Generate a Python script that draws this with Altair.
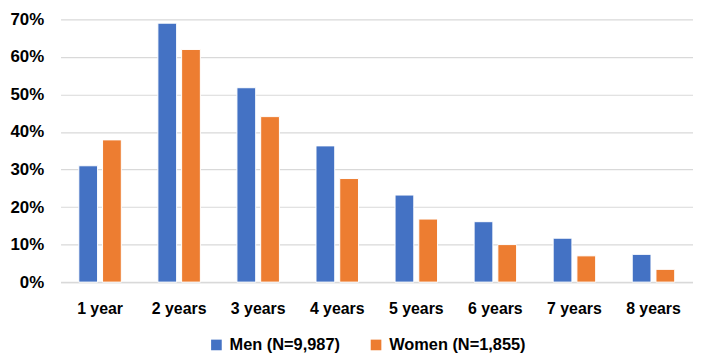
import altair as alt
import pandas as pd

categories = ["1 year", "2 years", "3 years", "4 years", "5 years", "6 years", "7 years", "8 years"]
series_names = ["Men (N=9,987)", "Women (N=1,855)"]
men = [0.31, 0.69, 0.518, 0.363, 0.232, 0.161, 0.117, 0.074]
women = [0.379, 0.62, 0.441, 0.276, 0.168, 0.100, 0.070, 0.034]
colors = ["#4472C4", "#ED7D31"]

rows = []
for c, m, w in zip(categories, men, women):
    rows.append({"cat": c, "series": series_names[0], "value": m})
    rows.append({"cat": c, "series": series_names[1], "value": w})
df = pd.DataFrame(rows)

FONT = "Liberation Sans"

chart = alt.Chart(df).mark_bar(stroke="white", strokeWidth=1).encode(
    x=alt.X("cat:N", sort=categories, title=None,
            scale=alt.Scale(paddingInner=0.4625, paddingOuter=0.23125),
            axis=alt.Axis(labelAngle=0, ticks=False, domain=True, domainColor="#D9D9D9",
                          domainWidth=1.5, labelPadding=19, labelFontSize=16,
                          labelFont=FONT, labelFontWeight="bold", labelColor="#000000")),
    xOffset=alt.XOffset("series:N", sort=series_names, scale=alt.Scale(paddingInner=0.21)),
    y=alt.Y("value:Q", title=None,
            scale=alt.Scale(domain=[0, 0.7]),
            axis=alt.Axis(format=".0%", values=[0, 0.1, 0.2, 0.3, 0.4, 0.5, 0.6, 0.7],
                          ticks=False, domain=False, gridColor="#D9D9D9", gridWidth=1.2,
                          labelPadding=17, labelFontSize=17, labelFont=FONT,
                          labelFontWeight="bold", labelColor="#000000")),
    color=alt.Color("series:N", sort=series_names,
                    scale=alt.Scale(domain=series_names, range=colors),
                    legend=alt.Legend(orient="none", legendX=149, legendY=320,
                                      direction="horizontal", title=None,
                                      symbolType="square", symbolSize=115, symbolStrokeWidth=0,
                                      labelFontSize=16.5, labelFont=FONT, labelFontWeight="bold",
                                      labelColor="#000000", columnPadding=28, labelOffset=5)),
).properties(
    width=638, height=265,
    padding={"left": 1, "top": 1, "right": 0, "bottom": 0},
).configure_view(stroke=None)

chart.save("out.html", embed_options={"renderer": "svg", "actions": False})
